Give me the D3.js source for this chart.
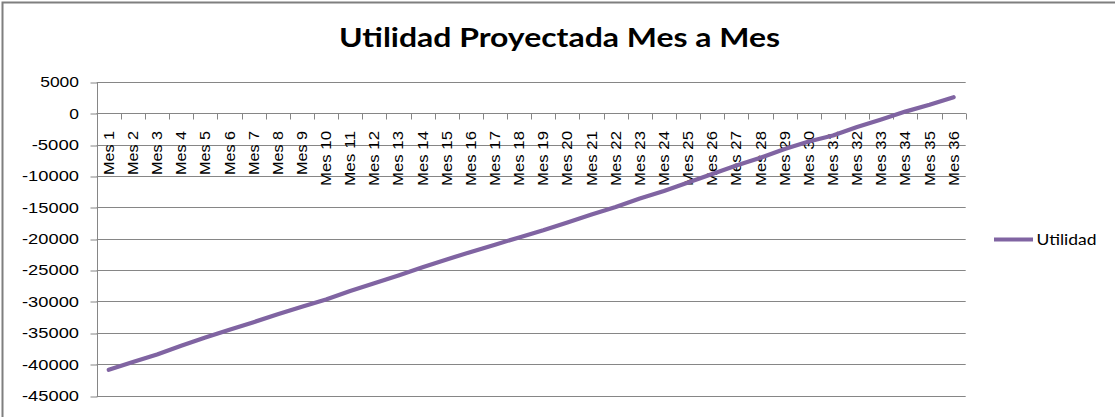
<!DOCTYPE html>
<html>
<head>
<meta charset="utf-8">
<script src="https://cdn.jsdelivr.net/npm/d3@7"></script>
<style>
html,body{margin:0;padding:0;background:#fff;}
svg{display:block;}
</style>
</head>
<body>
<svg id="chart" width="1115" height="417"></svg>
<script>
const title = "Utilidad Proyectada Mes a Mes";
const seriesName = "Utilidad";
const categories = ["Mes 1","Mes 2","Mes 3","Mes 4","Mes 5","Mes 6","Mes 7","Mes 8","Mes 9","Mes 10",
  "Mes 11","Mes 12","Mes 13","Mes 14","Mes 15","Mes 16","Mes 17","Mes 18","Mes 19","Mes 20",
  "Mes 21","Mes 22","Mes 23","Mes 24","Mes 25","Mes 26","Mes 27","Mes 28","Mes 29","Mes 30",
  "Mes 31","Mes 32","Mes 33","Mes 34","Mes 35","Mes 36"];
const utilidad = [-40900,-39650,-38450,-37050,-35750,-34500,-33300,-32050,-30850,-29700,
  -28350,-27100,-25850,-24550,-23300,-22100,-20950,-19800,-18650,-17400,
  -16150,-14950,-13600,-12400,-11050,-9700,-8350,-7100,-5700,-4500,
  -3550,-2200,-1000,250,1350,2550];
const yTicks = [5000,0,-5000,-10000,-15000,-20000,-25000,-30000,-35000,-40000,-45000];
const yTickLabels = ["5000","0","-5000","-10000","-15000","-20000","-25000","-30000","-35000","-40000","-45000"];

const svg = d3.select("#chart");
const W = 1115, H = 417;
const plot = {left: 96.7, right: 965.7, top: 81.8, bottom: 395.6};
const gridColor = "#868686";
const lineColor = "#8064A2";

svg.append("rect").attr("width", W).attr("height", H).attr("fill", "#fff");
// outer chart border (partly cropped)
svg.append("rect").attr("x", 2.5).attr("y", 2.5).attr("width", W + 10).attr("height", H + 10)
  .attr("fill", "none").attr("stroke", "#7f7f7f").attr("stroke-width", 2);

const x = d3.scaleBand().domain(categories).range([plot.left, plot.right]).padding(0);
const y = d3.scaleLinear().domain([-45000, 5000]).range([plot.bottom, plot.top]);

// horizontal gridlines
svg.append("g").selectAll("line").data(yTicks).join("line")
  .attr("x1", plot.left).attr("x2", plot.right)
  .attr("y1", d => Math.round(y(d)) + 0.5).attr("y2", d => Math.round(y(d)) + 0.5)
  .attr("stroke", gridColor).attr("stroke-width", 1);

// y axis
const yAxis = svg.append("g")
  .attr("transform", `translate(${Math.round(plot.left) + 0.5},0)`)
  .call(d3.axisLeft(y).tickValues(yTicks).tickSize(7).tickPadding(0));
yAxis.select(".domain").attr("stroke", gridColor).attr("d", `M0,${Math.round(y(5000))+0.5}V${Math.round(y(-45000))+0.5}`);
yAxis.selectAll(".tick line").attr("stroke", gridColor).attr("transform", d => `translate(0,${Math.round(y(d)) + 0.5 - y(d)})`);
yAxis.selectAll(".tick text").remove();
const labW = s => s.replace("-", "").length * 9.7 + (s[0] === "-" ? 8.5 : 0);
svg.append("g").selectAll("text").data(yTicks).join("text")
  .attr("x", 79).attr("y", d => y(d))
  .attr("text-anchor", "end").attr("dy", "0.36em")
  .attr("font-family", "'Liberation Sans', Arial, sans-serif").attr("font-size", 15)
  .attr("textLength", (d, i) => labW(yTickLabels[i])).attr("lengthAdjust", "spacingAndGlyphs")
  .attr("fill", "#000").text((d, i) => yTickLabels[i]);

// category axis at y = 0
const zeroY = Math.round(y(0)) + 0.5;
const xAxisG = svg.append("g");
xAxisG.append("line").attr("x1", plot.left).attr("x2", plot.right).attr("y1", zeroY).attr("y2", zeroY)
  .attr("stroke", gridColor);
const boundaries = categories.map(c => x(c)).concat([plot.right]);
xAxisG.selectAll("line.tk").data(boundaries).join("line").attr("class", "tk")
  .attr("x1", d => Math.round(d) + 0.5).attr("x2", d => Math.round(d) + 0.5)
  .attr("y1", zeroY).attr("y2", zeroY + 6).attr("stroke", gridColor);
xAxisG.selectAll("text").data(categories).join("text")
  .attr("transform", d => `translate(${x(d) + x.bandwidth() / 2},131) rotate(-90)`)
  .attr("text-anchor", "end").attr("dy", "0.36em")
  .attr("font-family", "'Liberation Sans', Arial, sans-serif").attr("font-size", 14)
  .attr("textLength", d => d.length > 5 ? 55 : 44).attr("lengthAdjust", "spacingAndGlyphs")
  .attr("fill", "#000").text(d => d);

// series line
const line = d3.line().x((d, i) => x(categories[i]) + x.bandwidth() / 2).y(d => y(d));
svg.append("path").datum(utilidad).attr("d", line)
  .attr("fill", "none").attr("stroke", lineColor).attr("stroke-width", 4.2)
  .attr("stroke-linejoin", "round").attr("stroke-linecap", "round");

// title
svg.append("text").attr("x", 559.5).attr("y", 47).attr("text-anchor", "middle")
  .attr("font-family", "Lato, 'Open Sans', sans-serif").attr("font-weight", "bold").attr("font-size", 27)
  .attr("textLength", 441).attr("lengthAdjust", "spacingAndGlyphs")
  .attr("fill", "#000").text(title);

// legend
svg.append("line").attr("x1", 994).attr("x2", 1033).attr("y1", 239.5).attr("y2", 239.5)
  .attr("stroke", lineColor).attr("stroke-width", 4.2);
svg.append("text").attr("x", 1036.5).attr("y", 245).attr("font-family", "Lato, 'Open Sans', sans-serif")
  .attr("font-size", 15).attr("textLength", 60).attr("lengthAdjust", "spacingAndGlyphs")
  .attr("fill", "#000").text(seriesName);
</script>
</body>
</html>
